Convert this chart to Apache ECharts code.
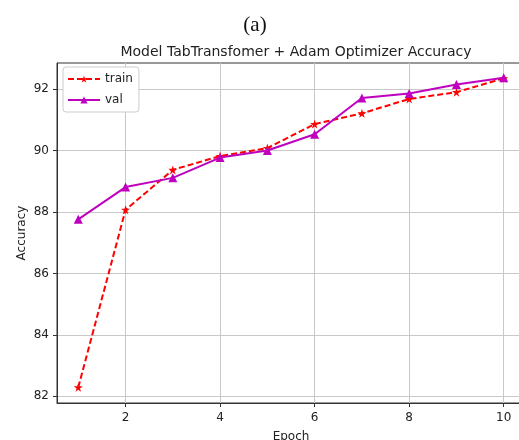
<!DOCTYPE html>
<html>
<head>
<meta charset="utf-8">
<script src="https://cdn.jsdelivr.net/npm/echarts@6/dist/echarts.min.js"></script>
<style>
  html, body { margin: 0; padding: 0; background: #fff; }
  #chart { width: 519px; height: 440px; }
</style>
</head>
<body>
<div id="chart"></div>
<script>
// data
var epochs = [1, 2, 3, 4, 5, 6, 7, 8, 9, 10];
var trainAcc = [82.29, 88.07, 89.37, 89.82, 90.08, 90.86, 91.21, 91.68, 91.90, 92.35];
var valAcc = [87.76, 88.81, 89.11, 89.77, 90.00, 90.53, 91.71, 91.86, 92.15, 92.37];
var xTicks = [2, 4, 6, 8, 10];
var yTicks = [82, 84, 86, 88, 90, 92];

var star = 'path://M50,0L61.2,34.6L97.6,34.5L68.1,55.9L79.4,90.5L50,69L20.6,90.5L31.9,55.9L2.4,34.5L38.8,34.6Z';
var font = 'DejaVu Sans';

function pairs(ys) {
	return epochs.map(function (e, i) { return [e, ys[i]]; });
}

var chart = echarts.init(document.getElementById('chart'));

chart.setOption({
	animation: false,
	title: [{
		text: '(a)',
		left: 250,
		top: 10,
		textAlign: 'center',
		textStyle: { fontFamily: 'Liberation Serif', fontSize: 21, fontWeight: 'normal', color: '#111' }
	}, {
		text: 'Model TabTransfomer + Adam Optimizer Accuracy',
		left: 291,
		top: 40,
		textAlign: 'center',
		textStyle: { fontFamily: font, fontSize: 14, fontWeight: 'normal', color: '#222' }
	}],
	legend: {
		orient: 'vertical',
		left: 63,
		top: 67,
		padding: [6, 6, 6, 4],
		itemGap: 9,
		itemWidth: 32,
		itemHeight: 9,
		backgroundColor: '#fff',
		borderColor: '#ccc',
		borderWidth: 1,
		borderRadius: 3,
		textStyle: { fontFamily: font, fontSize: 12, color: '#222' },
		data: ['train', 'val']
	},
	grid: {
		left: 57,
		right: -6,
		top: 63,
		bottom: 37,
		outerBoundsMode: 'none',
		show: true,
		borderColor: '#333',
		borderWidth: 1
	},
	xAxis: {
		type: 'value',
		min: 0.55,
		max: 10.45,
		name: 'Epoch',
		nameLocation: 'middle',
		nameGap: 28,
		nameMoveOverlap: false,
		nameTextStyle: { fontFamily: font, fontSize: 12, color: '#222' },
		axisLine: { lineStyle: { color: '#333', width: 1 } },
		axisTick: { customValues: xTicks, length: 4, lineStyle: { color: '#333' } },
		axisLabel: { customValues: xTicks, fontFamily: font, fontSize: 12, color: '#222', margin: 9 },
		splitLine: { show: true, lineStyle: { color: '#c8c8c8', width: 1 } }
	},
	yAxis: {
		type: 'value',
		min: 81.78,
		max: 92.85,
		name: 'Accuracy',
		nameLocation: 'middle',
		nameGap: 29,
		nameMoveOverlap: false,
		nameTextStyle: { fontFamily: font, fontSize: 12, color: '#222' },
		axisLine: { show: true, lineStyle: { color: '#333', width: 1 } },
		axisTick: { show: true, customValues: yTicks, length: 4, lineStyle: { color: '#333' } },
		axisLabel: { customValues: yTicks, fontFamily: font, fontSize: 12, color: '#222', margin: 8 },
		splitLine: { show: true, lineStyle: { color: '#c8c8c8', width: 1 } }
	},
	series: [{
		name: 'train',
		type: 'line',
		data: pairs(trainAcc),
		symbol: star,
		symbolSize: 9,
		itemStyle: { color: '#ff0000' },
		lineStyle: { color: '#ff0000', width: 2, type: [6, 3] },
		z: 3
	}, {
		name: 'val',
		type: 'line',
		data: pairs(valAcc),
		symbol: 'triangle',
		symbolSize: 9,
		itemStyle: { color: '#bf00bf' },
		lineStyle: { color: '#bf00bf', width: 2 },
		z: 4
	}]
});
</script>
</body>
</html>
